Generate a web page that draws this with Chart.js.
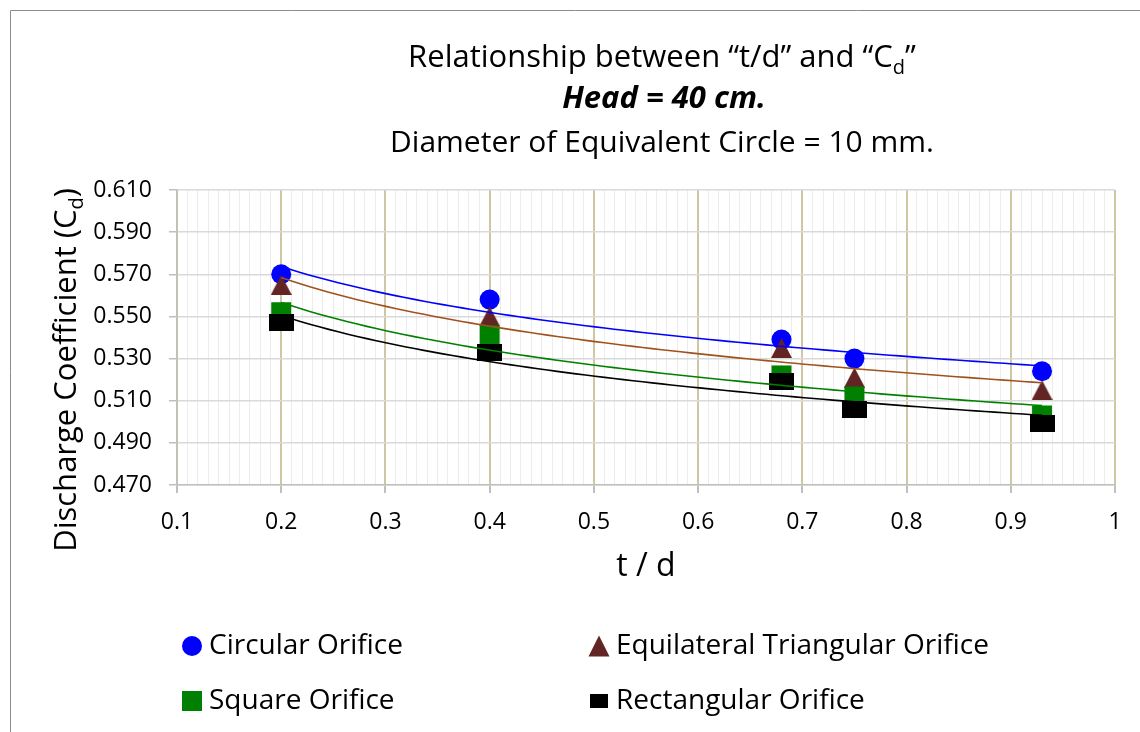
<!DOCTYPE html>
<html>
<head>
<meta charset="utf-8">
<title>Relationship between t/d and Cd</title>
<script src="https://cdn.jsdelivr.net/npm/chart.js@4.4.1/dist/chart.umd.min.js"></script>
<style>
    html, body { margin: 0; padding: 0; background: #fff; }
    #wrap { position: relative; width: 1140px; height: 732px; }
</style>
</head>
<body>
<div id="wrap"><canvas id="chart" width="1140" height="732"></canvas></div>
<script>
/* t/d ratio of each orifice plate */
const tdRatios = [0.2, 0.4, 0.68, 0.75, 0.93];

/* Discharge coefficients measured at Head = 40 cm */
const cdCircular = [0.570, 0.558, 0.539, 0.530, 0.524];
const cdTriangular = [0.565, 0.550, 0.535, 0.521, 0.515];
const cdSquare = [0.552, 0.541, 0.522, 0.512, 0.503];
const cdRectangular = [0.547, 0.533, 0.519, 0.506, 0.499];

const seriesNames = ['Circular Orifice', 'Equilateral Triangular Orifice', 'Square Orifice', 'Rectangular Orifice'];

/* axis ticks */
const xTicks = [0.1, 0.2, 0.3, 0.4, 0.5, 0.6, 0.7, 0.8, 0.9, 1];
const yTicks = [0.470, 0.490, 0.510, 0.530, 0.550, 0.570, 0.590, 0.610];

const FONT = "'Open Sans', 'Noto Sans', sans-serif";


function toPoints(xs, ys) {
    return xs.map((x, i) => ({x: x, y: ys[i]}));
}

/* Least squares power trendline y = a * x^b, sampled between first and last x */
function powerTrend(xs, ys) {
    const n = xs.length;
    const lx = xs.map(Math.log);
    const ly = ys.map(Math.log);
    const mx = lx.reduce((a, b) => a + b, 0) / n;
    const my = ly.reduce((a, b) => a + b, 0) / n;
    let sxy = 0, sxx = 0;
    for (let i = 0; i < n; i++) {
        sxy += (lx[i] - mx) * (ly[i] - my);
        sxx += (lx[i] - mx) * (lx[i] - mx);
    }
    const b = sxy / sxx;
    const a = Math.exp(my - b * mx);
    const x0 = xs[0], x1 = xs[n - 1];
    const pts = [];
    for (let i = 0; i <= 80; i++) {
        const x = x0 + (x1 - x0) * i / 80;
        pts.push({x: x, y: a * Math.pow(x, b)});
    }
    return pts;
}

/* Small canvases used as marker images */
function rectMarker(w, h, color) {
    const c = document.createElement('canvas');
    c.width = w;
    c.height = h;
    const g = c.getContext('2d');
    g.fillStyle = color;
    g.fillRect(0, 0, w, h);
    return c;
}

function triangleMarker(w, h, color) {
    const c = document.createElement('canvas');
    c.width = w;
    c.height = h;
    const g = c.getContext('2d');
    g.fillStyle = color;
    g.beginPath();
    g.moveTo(w / 2, 0);
    g.lineTo(w, h);
    g.lineTo(0, h);
    g.closePath();
    g.fill();
    return c;
}

function isMajor(v) {
    return Math.abs(v * 10 - Math.round(v * 10)) < 1e-6;
}

function markerSet(label, ys, style, radius, color, order) {
    return {
        label: label,
        data: toPoints(tdRatios, ys),
        showLine: false,
        pointStyle: style,
        pointRadius: radius,
        backgroundColor: color,
        borderColor: color,
        borderWidth: 0,
        order: order
    };
}

function trendSet(ys, color) {
    return {
        label: '',
        data: powerTrend(tdRatios, ys),
        showLine: true,
        pointRadius: 0,
        borderColor: color,
        borderWidth: 1.6,
        tension: 0,
        order: 0,
        trend: true
    };
}

/* Text with an optional subscript part, centred on (cx, cy) */
function drawRich(ctx, parts, cx, cy, size, rot, style) {
    const subSize = Math.round(size * 0.64);
    ctx.save();
    ctx.translate(cx, cy);
    ctx.rotate(rot);
    ctx.textBaseline = 'alphabetic';
    ctx.textAlign = 'left';
    let total = 0;
    const widths = parts.map(p => {
        ctx.font = (style || '') + ' ' + (p.sub ? subSize : size) + 'px ' + FONT;
        const w = ctx.measureText(p.t).width;
        total += w;
        return w;
    });
    let x = -total / 2;
    const base = size * 0.36;
    parts.forEach((p, i) => {
        ctx.font = (style || '') + ' ' + (p.sub ? subSize : size) + 'px ' + FONT;
        ctx.fillText(p.t, x, p.sub ? base + size * 0.22 : base);
        x += widths[i];
    });
    ctx.restore();
}

/* Legend marker shapes */
function drawLegendMarker(ctx, kind, x, y, color) {
    ctx.fillStyle = color;
    ctx.beginPath();
    if (kind === 'circle') {
        ctx.arc(x, y, 10, 0, Math.PI * 2);
    } else if (kind === 'triangle') {
        ctx.moveTo(x, y - 10.5);
        ctx.lineTo(x + 10.5, y + 10.5);
        ctx.lineTo(x - 10.5, y + 10.5);
        ctx.closePath();
    } else if (kind === 'square') {
        ctx.rect(x - 10, y - 10, 20, 20);
    } else {
        ctx.rect(x - 9, y - 7, 18, 14);
    }
    ctx.fill();
}

const decorations = {
    id: 'decorations',
    beforeDraw(chart) {
        const ctx = chart.ctx;
        ctx.save();
        ctx.fillStyle = '#ffffff';
        ctx.fillRect(0, 0, chart.width, chart.height);
        ctx.strokeStyle = '#8c8c8c';
        ctx.lineWidth = 1;
        ctx.beginPath();
        ctx.moveTo(10.5, chart.height);
        ctx.lineTo(10.5, 10.5);
        ctx.lineTo(chart.width, 10.5);
        ctx.stroke();
        ctx.restore();
    },
    afterDraw(chart) {
        const ctx = chart.ctx;
        ctx.save();
        ctx.fillStyle = '#000000';

        // chart title
        drawRich(ctx, [{t: 'Relationship between \u201ct/d\u201d and \u201cC'}, {t: 'd', sub: true}, {t: '\u201d'}],
            662, 56, 31, 0, '');
        drawRich(ctx, [{t: 'Head = 40 cm.'}], 664, 97, 31, 0, 'italic bold');
        drawRich(ctx, [{t: 'Diameter of Equivalent Circle = 10 mm.'}], 662, 141, 30, 0, '');

        // y axis title
        drawRich(ctx, [{t: 'Discharge Coefficient (C'}, {t: 'd', sub: true}, {t: ')'}],
            65, 370, 31, -Math.PI / 2, '');

        // legend, two columns
        const rows = [646, 701];
        const cols = [192, 599];
        const kinds = ['circle', 'triangle', 'square', 'rectangle'];
        const markers = chart.data.datasets.filter(d => !d.trend);
        markers.forEach((ds, i) => {
            const x = cols[i % 2];
            const y = rows[Math.floor(i / 2)];
            drawLegendMarker(ctx, kinds[i], x, y, ds.backgroundColor);
            ctx.fillStyle = '#000000';
            ctx.font = '28px ' + FONT;
            ctx.textBaseline = 'middle';
            ctx.textAlign = 'left';
            ctx.fillText(ds.label, x + 17, y);
        });
        ctx.restore();
    }
};

Chart.defaults.font.family = FONT;
Chart.defaults.color = '#000000';

new Chart(document.getElementById('chart'), {
    type: 'scatter',
    data: {
        datasets: [
            markerSet(seriesNames[0], cdCircular, 'circle', 10, '#0000FF', 4),
            markerSet(seriesNames[1], cdTriangular, triangleMarker(21, 20, '#632523'), 12, '#632523', 3),
            markerSet(seriesNames[2], cdSquare, 'rect', 14.1, '#008000', 2),
            markerSet(seriesNames[3], cdRectangular, rectMarker(25, 17, '#000000'), 12, '#000000', 1),
            trendSet(cdCircular, '#0000FF'),
            trendSet(cdTriangular, '#A0521E'),
            trendSet(cdSquare, '#008000'),
            trendSet(cdRectangular, '#000000')
        ]
    },
    options: {
        responsive: false,
        animation: false,
        events: [],
        layout: {
            padding: {left: 0, top: 190, right: 25, bottom: 144}
        },
        plugins: {
            legend: {display: false},
            title: {display: false},
            tooltip: {enabled: false}
        },
        scales: {
            x: {
                type: 'linear',
                min: xTicks[0],
                max: xTicks[xTicks.length - 1],
                afterFit: function(scale) { scale.height = 103; },
                border: {color: '#BFBFBF', width: 1.5},
                grid: {
                    color: ctx => isMajor(ctx.tick.value) ? '#CFC6A4' : '#ECECEC',
                    lineWidth: ctx => isMajor(ctx.tick.value) ? 2 : 1,
                    tickLength: 8,
                    tickColor: ctx => isMajor(ctx.tick.value) ? '#BFBFBF' : 'rgba(0,0,0,0)'
                },
                ticks: {
                    stepSize: 0.01,
                    precision: 2,
                    autoSkip: false,
                    maxRotation: 0,
                    padding: 16,
                    font: {size: 23},
                    callback: v => isMajor(v) ? String(xTicks.find(t => Math.abs(t - v) < 1e-6)) : ''
                },
                title: {
                    display: true,
                    text: 't / d',
                    font: {size: 32},
                    padding: {top: 4, bottom: 2}
                }
            },
            y: {
                min: yTicks[0],
                max: yTicks[yTicks.length - 1],
                afterFit: function(scale) { scale.width = 177; },
                border: {color: '#BFBFBF', width: 1.5},
                grid: {
                    color: '#D9D9D9',
                    lineWidth: 1.5,
                    tickLength: 8,
                    tickColor: '#BFBFBF'
                },
                ticks: {
                    stepSize: 0.02,
                    precision: 3,
                    padding: 17,
                    font: {size: 23},
                    callback: v => v.toFixed(3)
                }
            }
        }
    },
    plugins: [decorations]
});
</script>
</body>
</html>
